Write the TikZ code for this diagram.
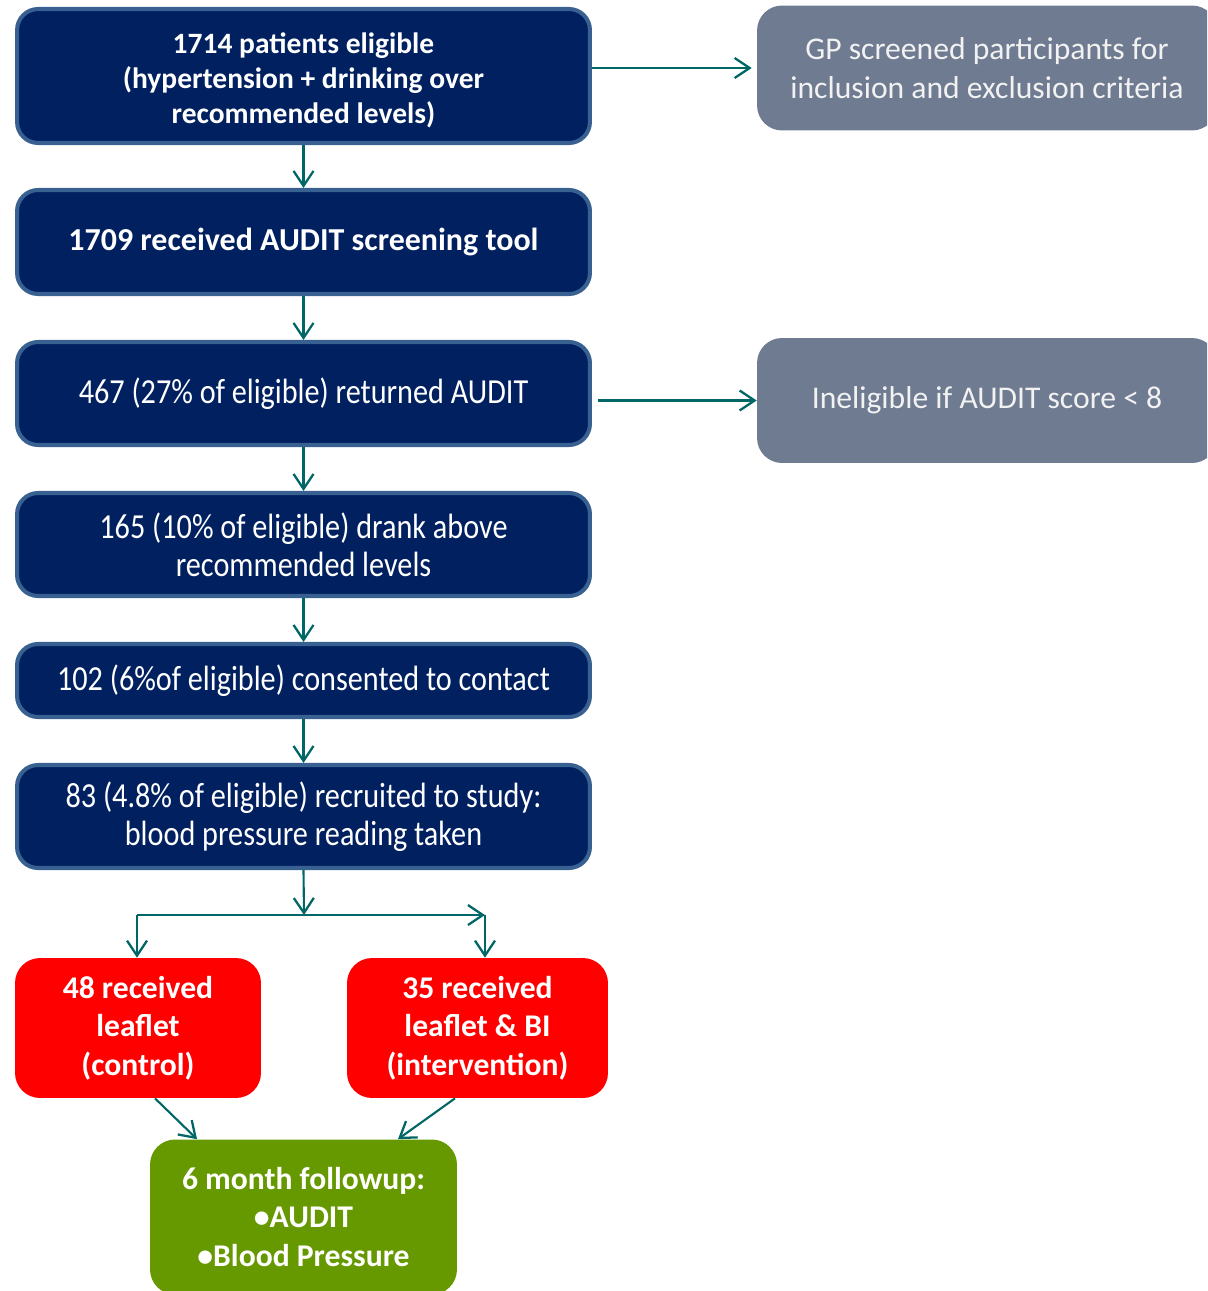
\documentclass[tikz,border=0pt]{standalone}
\usepackage{fontspec}
\setmainfont{Carlito}
\newfontfamily\narrowfont[FakeStretch=0.86]{Carlito}
\usetikzlibrary{arrows.meta}

\definecolor{navyfill}{RGB}{0,32,96}
\definecolor{navyedge}{RGB}{56,96,145}
\definecolor{flowteal}{RGB}{0,102,102}
\definecolor{notegray}{RGB}{111,123,145}
\definecolor{armred}{RGB}{255,0,0}
\definecolor{followgreen}{RGB}{102,153,0}

\tikzset{
  stage/.style={draw=navyedge, line width=2.3pt, fill=navyfill, text=white,
    rounded corners=0.42cm, align=center, minimum width=11.46cm},
  boldstage/.style={stage, font=\bfseries\fontsize{18.2}{19.9}\selectfont},
  thinstage/.style={stage, font=\narrowfont\fontsize{20}{21.6}\selectfont},
  note/.style={fill=notegray, text=white!95!black, rounded corners=0.5cm,
    align=center, minimum width=9.2cm, minimum height=2.5cm,
    font=\fontsize{18}{22.2}\selectfont},
  arm/.style={fill=armred, text=white, rounded corners=0.5cm, align=center,
    minimum height=2.8cm, font=\bfseries\fontsize{18}{21.9}\selectfont},
  followup/.style={fill=followgreen, text=white, rounded corners=0.5cm,
    align=center, minimum width=6.14cm, minimum height=3.1cm,
    font=\bfseries\fontsize{18}{21.9}\selectfont},
  flow/.style={draw=flowteal, line width=1.2pt,
    -{Straight Barb[length=0.3cm, width=0.4cm, line width=1.3pt]}}
}

\begin{document}
\begin{tikzpicture}[x=0.02cm, y=-0.02cm]
  \clip (0,0) rectangle (1207,1291);

  % main column
  \node[boldstage, minimum height=2.68cm, font=\bfseries\fontsize{16.8}{19.9}\selectfont]
    (eligible) at (303.5,76)
    {\rule{0pt}{1.0em}1714 patients eligible\\(hypertension + drinking over\\recommended levels)};
  \node[boldstage, minimum height=2.08cm] (received) at (303.5,242)
    {1709 received AUDIT screening tool};
  \node[thinstage, minimum height=2.06cm] (returned) at (303.5,393.5)
    {467 (27\% of eligible) returned AUDIT};
  \node[thinstage, minimum height=2.06cm] (drank) at (303.5,544.5)
    {165 (10\% of eligible) drank above\\recommended levels};
  \node[thinstage, minimum height=1.46cm] (consent) at (303.5,680.5)
    {102 (6\%of eligible) consented to contact};
  \node[thinstage, minimum height=2.06cm] (recruit) at (303.5,816.5)
    {83 (4.8\% of eligible) recruited to study:\\blood pressure reading taken};

  % side notes
  \node[note] (screen) at (987,68)
    {GP screened participants for\\inclusion and exclusion criteria};
  \node[note] (cutoff) at (987,400.5)
    {Ineligible if AUDIT score < 8};

  % trial arms
  \node[arm, minimum width=4.92cm] (control) at (138,1028)
    {48 received\\leaflet\\(control)};
  \node[arm, minimum width=5.22cm] (interv) at (477.5,1028)
    {35 received\\leaflet \& BI\\(intervention)};
  \node[followup] (follow) at (303.5,1217)
    {6 month followup:\\\textbullet AUDIT\\\textbullet Blood Pressure};

  \coordinate (split) at (304,915);
  \coordinate (splitL) at (137,915);
  \coordinate (splitR) at (485,915);

  \draw[flow] (eligible) -- (received);
  \draw[flow] (received) -- (returned);
  \draw[flow] (returned) -- (drank);
  \draw[flow] (drank) -- (consent);
  \draw[flow] (consent) -- (recruit);
  \draw[flow] (eligible.east |- screen.west) -- ([xshift=-0.1cm]screen.west);
  \draw[flow] ([xshift=0.12cm]returned.east |- cutoff.west) -- (cutoff.west);

  \draw[flow] (recruit.south) -- (split);
  \draw[flow] (splitL) -- (splitR);
  \draw[flow] (splitL) -- (splitL |- control.north);
  \draw[flow] (splitR) -- (splitR |- interv.north);
  \draw[flow] ([xshift=0.34cm]control.south) -- ([xshift=-2.13cm]follow.north);
  \draw[flow] ([xshift=-0.45cm]interv.south) -- ([xshift=1.89cm]follow.north);
\end{tikzpicture}
\end{document}
